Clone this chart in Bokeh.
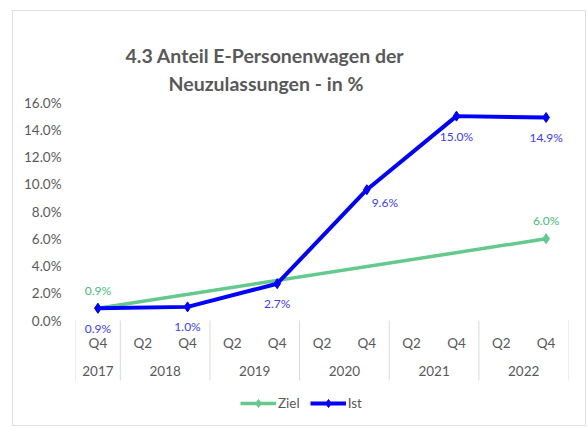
from bokeh.plotting import figure
from bokeh.models import (FixedTicker, LinearAxis, Range1d, Legend, LegendItem, Title,
                          PrintfTickFormatter, ColumnDataSource)
from bokeh.embed import file_html
from bokeh.resources import INLINE
from bokeh.core.properties import value

# ---- data ----
quarters = ["Q4", "Q2", "Q4", "Q2", "Q4", "Q2", "Q4", "Q2", "Q4", "Q2", "Q4"]
years = ["2017", "2018", "2018", "2019", "2019", "2020", "2020", "2021", "2021", "2022", "2022"]
ziel = [0.9, None, None, None, None, None, None, None, None, None, 6.0]
ist = [0.9, None, 1.0, None, 2.7, None, 9.6, None, 15.0, None, 14.9]
y_ticks = [0, 2, 4, 6, 8, 10, 12, 14, 16]
title_lines = ["4.3 Anteil E-Personenwagen der", "Neuzulassungen - in %"]

FONT = "Lato"
GREY = "#595959"
GRID = "#D9D9D9"
GREEN = "#63C98D"
GREEN_TXT = "#45BD77"
BLUE = "#0000FF"
BLUE_TXT = "#3B3BFF"

# ---- layout (pixels) ----
W, H = 574, 416
LEFT, RIGHT, TOP, BOTTOM = 62, 19, 91, 9
VALUE_PX = 218                       # pixel height of the 0..16 value band
frame_h = H - TOP - BOTTOM
y_start = y_ticks[-1] - (y_ticks[-1] - y_ticks[0]) * frame_h / VALUE_PX

x = list(range(len(quarters)))

# group centers and boundaries for the year level
uniq_years = []
for yv in years:
    if yv not in uniq_years:
        uniq_years.append(yv)
year_centers = []
for yv in uniq_years:
    idx = [i for i, v in enumerate(years) if v == yv]
    year_centers.append(sum(idx) / len(idx))
bounds = [-0.5] + [i - 0.5 for i in range(1, len(years)) if years[i] != years[i - 1]] + [len(years) - 0.5]

def series(vals):
    xs = [x[i] for i, v in enumerate(vals) if v is not None]
    ys = [v for v in vals if v is not None]
    return ColumnDataSource(dict(x=xs, y=ys, lab=["%.1f%%" % v for v in ys]))

zsrc = series(ziel)
isrc = series(ist)

p = figure(width=W, height=H, output_backend="svg", toolbar_location=None,
           x_range=Range1d(-0.5, len(x) - 0.5), y_range=Range1d(y_start, y_ticks[-1]),
           x_axis_type=None, y_axis_type=None,
           min_border_left=LEFT, min_border_right=RIGHT, min_border_top=TOP, min_border_bottom=BOTTOM)
p.outline_line_color = None
p.styles = {"margin-left": "12px", "margin-top": "10px", "border": "1px solid #E0E0E0"}

# y axis
yax = LinearAxis(ticker=FixedTicker(ticks=y_ticks), formatter=PrintfTickFormatter(format="%.1f%%"),
                 axis_line_color=None, major_tick_line_color=None, minor_tick_line_color=None,
                 major_label_standoff=8, major_label_text_font=FONT,
                 major_label_text_font_size="13.5px", major_label_text_color=GREY)
p.add_layout(yax, "left")
p.ygrid.ticker = FixedTicker(ticks=y_ticks)
p.ygrid.grid_line_color = GRID
p.xgrid.grid_line_color = None

# category table below the value band: separators, quarter and year labels
nb = len(bounds)
p.ray(x=bounds, y=[y_ticks[0]] * nb, length=60, length_units="screen", angle=-90,
      angle_units="deg", line_color=GRID, line_width=1)
p.text(x=x, y=[y_ticks[0]] * len(x), text=quarters, y_offset=22, text_align="center",
       text_baseline="middle", text_font=value(FONT), text_font_size="13.5px", text_color=GREY)
p.text(x=year_centers, y=[y_ticks[0]] * len(year_centers), text=uniq_years, y_offset=50,
       text_align="center", text_baseline="middle", text_font=value(FONT),
       text_font_size="13.5px", text_color=GREY)

# series
zl = p.line("x", "y", source=zsrc, line_color=GREEN, line_width=3.5)
zs = p.scatter("x", "y", source=zsrc, marker="diamond", size=10, color=GREEN)
il = p.line("x", "y", source=isrc, line_color=BLUE, line_width=4)
is_ = p.scatter("x", "y", source=isrc, marker="diamond", size=10, color=BLUE)

# data labels
p.text("x", "y", text="lab", source=zsrc, text_align="center", text_baseline="middle",
       y_offset=-18, text_font=value(FONT), text_font_size="12px", text_color=GREEN_TXT)
isrc.data["xo"] = [0, 0, 0, 18, 0, 0]
isrc.data["yo"] = [20, 20, 20, 13, 20, 20]
p.text("x", "y", text="lab", source=isrc, text_align="center", text_baseline="middle",
       x_offset="xo", y_offset="yo", text_font=value(FONT), text_font_size="12px",
       text_color=BLUE_TXT)

# title: invisible spacer axis next to the plot area, then the two title lines
p.title.text = ""
spacer = LinearAxis(ticker=FixedTicker(ticks=[]), axis_line_color=None,
                    major_tick_line_color=None, minor_tick_line_color=None,
                    major_tick_out=15, major_tick_in=0, minor_tick_out=0, minor_tick_in=0,
                    major_label_standoff=0)
p.add_layout(spacer, "above")
t2 = Title(text=title_lines[1], align="left", offset=93, vertical_align="top", standoff=11,
           text_font=FONT, text_font_size="19.5px", text_font_style="bold", text_color=GREY)
t1 = Title(text=title_lines[0], align="left", offset=50, vertical_align="bottom", standoff=0,
           text_font=FONT, text_font_size="19.5px", text_font_style="bold", text_color=GREY)
p.add_layout(t2, "above")
p.add_layout(t1, "above")

# legend
legend = Legend(items=[LegendItem(label="Ziel", renderers=[zl, zs]),
                       LegendItem(label="Ist", renderers=[il, is_])],
                orientation="horizontal", location=(165, 5),
                glyph_width=36, glyph_height=20, label_standoff=2, spacing=10,
                padding=0, margin=0, border_line_color=None, background_fill_alpha=0,
                label_text_font=FONT, label_text_font_size="13.5px", label_text_color=GREY)
p.add_layout(legend)

open("out.html", "w").write(file_html(p, INLINE))
